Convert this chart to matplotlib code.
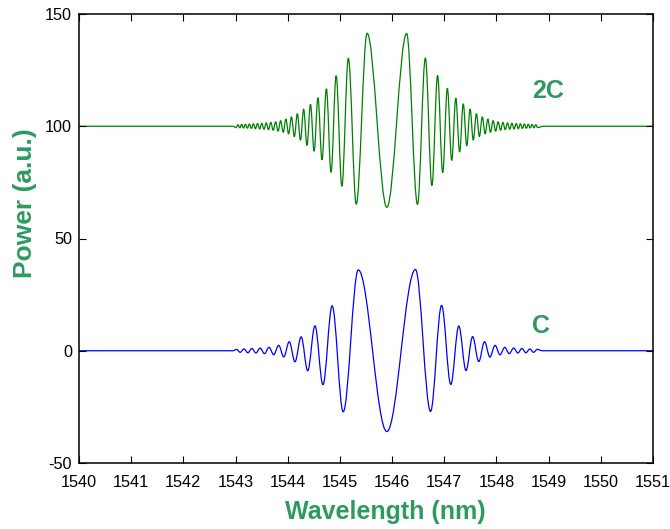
import matplotlib
matplotlib.use("Agg")
import matplotlib.pyplot as plt
from matplotlib.path import Path
from matplotlib.patches import PathPatch

plt.rcParams['font.family'] = ['Liberation Sans', 'DejaVu Sans']
plt.rcParams['axes.unicode_minus'] = False

# ---- "2C" trace: turning points (wavelength in nm, power in a.u.) ----
wl_2c = [1540.0, 1542.95,
         1543.011, 1543.046, 1543.081, 1543.117, 1543.153, 1543.190, 1543.227, 1543.265, 1543.303, 1543.342,
         1543.381, 1543.421, 1543.462, 1543.503, 1543.545, 1543.588, 1543.632, 1543.676, 1543.722, 1543.768,
         1543.816, 1543.864, 1543.914, 1543.965, 1544.017, 1544.071, 1544.127, 1544.184, 1544.244, 1544.305,
         1544.369, 1544.436, 1544.506, 1544.579, 1544.657, 1544.741, 1544.830, 1544.928, 1545.037, 1545.162,
         1545.313, 1545.521,
         1545.900,
         1546.279, 1546.487,
         1546.638, 1546.763, 1546.872, 1546.970, 1547.059, 1547.143, 1547.221, 1547.294, 1547.364, 1547.431,
         1547.495, 1547.556, 1547.616, 1547.673, 1547.729, 1547.783, 1547.835, 1547.886, 1547.936, 1547.984,
         1548.032, 1548.078, 1548.124, 1548.168, 1548.212, 1548.255, 1548.297, 1548.338, 1548.379, 1548.419,
         1548.458, 1548.497, 1548.535, 1548.573, 1548.610, 1548.647, 1548.683, 1548.719, 1548.754, 1548.789,
         1548.90, 1551.0]
pw_2c = [100.0, 100.0,
         99.4, 100.7, 99.3, 100.8, 99.2, 100.9, 99.1, 101.0, 99.0, 101.1,
         98.9, 101.2, 98.8, 101.3, 98.7, 101.5, 98.5, 101.7, 98.2, 102.0,
         97.8, 102.5, 97.3, 103.2, 96.6, 104.2, 95.4, 105.6, 93.8, 107.6,
         91.5, 109.8, 88.9, 112.7, 85.0, 116.7, 79.5, 122.5, 73.3, 130.3,
         65.3, 141.4,
         63.9,
         141.3, 65.2,
         130.4, 73.6, 122.6, 79.4, 116.9, 84.8, 112.5, 88.5, 110.0, 91.3,
         107.6, 93.8, 105.6, 95.4, 104.2, 96.6, 103.2, 97.3, 102.5, 97.8,
         102.0, 98.2, 101.7, 98.5, 101.5, 98.7, 101.3, 98.8, 101.2, 98.9,
         101.1, 99.0, 101.0, 99.1, 100.9, 99.2, 100.8, 99.3, 100.7, 99.4,
         100.0, 100.0]

# ---- "C" trace: turning points ----
wl_c = [1540.0, 1542.95,
        1543.019, 1543.089, 1543.161, 1543.235, 1543.312, 1543.390, 1543.471, 1543.555, 1543.642, 1543.732,
        1543.826, 1543.925, 1544.029, 1544.139, 1544.257, 1544.383, 1544.522, 1544.675, 1544.851, 1545.063,
        1545.352,
        1545.900,
        1546.448,
        1546.737, 1546.949, 1547.125, 1547.278, 1547.417, 1547.543, 1547.661, 1547.771, 1547.875, 1547.974,
        1548.068, 1548.158, 1548.245, 1548.329, 1548.410, 1548.488, 1548.565, 1548.639, 1548.711, 1548.781,
        1548.88, 1551.0]
pw_c = [0.0, 0.0,
        0.6, -0.7, 0.8, -0.9, 1.0, -1.0, 1.2, -1.3, 1.5, -1.8,
        2.4, -2.7, 4.0, -4.9, 6.2, -8.9, 11.1, -15.1, 20.0, -27.2,
        36.0,
        -36.0,
        36.2,
        -27.0, 20.2, -15.0, 11.0, -8.8, 6.3, -4.8, 4.0, -2.8, 2.4,
        -1.8, 1.5, -1.3, 1.2, -1.0, 1.0, -0.9, 0.8, -0.7, 0.6,
        0.0, 0.0]

x_ticks = list(range(1540, 1552))
y_ticks = [-50, 0, 50, 100, 150]
trace_names = ["2C", "C"]
label_color = "#2e9a60"


def smooth_path(xs, ys, handle=0.36):
    """Cubic Bezier path through turning points with flat tangents at each."""
    verts = [(xs[0], ys[0])]
    codes = [Path.MOVETO]
    for x0, y0, x1, y1 in zip(xs[:-1], ys[:-1], xs[1:], ys[1:]):
        dx = x1 - x0
        verts += [(x0 + handle * dx, y0), (x1 - handle * dx, y1), (x1, y1)]
        codes += [Path.CURVE4] * 3
    return Path(verts, codes)


fig = plt.figure(figsize=(6.7, 5.29), dpi=100)
ax = fig.add_axes([79 / 670, 1 - 463 / 529, (653 - 79) / 670, (463 - 14) / 529])

for xs, ys, col in [(wl_2c, pw_2c, "#008000"), (wl_c, pw_c, "#0000ff")]:
    ax.add_patch(PathPatch(smooth_path(xs, ys), fill=False, edgecolor=col,
                           linewidth=0.9, transform=ax.transData))

ax.set_xlim(1540, 1551)
ax.set_ylim(-50, 150)
ax.set_xticks(x_ticks)
ax.set_yticks(y_ticks)
ax.tick_params(direction="in", length=5, width=0.8, top=True, right=True,
               labelsize=11.7)
ax.tick_params(axis="x", pad=8.5)
ax.tick_params(axis="y", pad=5)
for s in ax.spines.values():
    s.set_linewidth(1.1)

ax.text(1548.68, 115.6, trace_names[0], color=label_color, fontsize=18,
        fontweight="bold", ha="left", va="center")
ax.text(1548.68, 11.0, trace_names[1], color=label_color, fontsize=18,
        fontweight="bold", ha="left", va="center")

fig.text(385 / 670, 1 - 512 / 529, "Wavelength (nm)", color=label_color,
         fontsize=18, fontweight="bold", ha="center", va="center")
fig.text(25 / 670, 1 - 203 / 529, "Power (a.u.)", color=label_color,
         fontsize=19, fontweight="bold", ha="center", va="center", rotation=90)

fig.savefig("out.png", dpi=100)
